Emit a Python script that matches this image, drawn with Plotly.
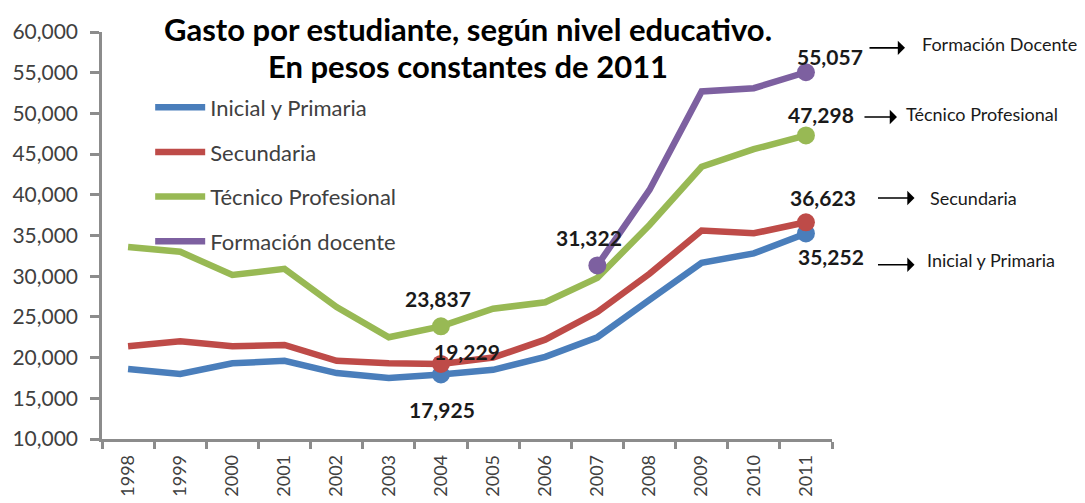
import plotly.graph_objects as go

years = ["1998", "1999", "2000", "2001", "2002", "2003", "2004",
         "2005", "2006", "2007", "2008", "2009", "2010", "2011"]

inicial = [18600, 18000, 19300, 19600, 18100, 17500, 17925,
           18500, 20100, 22500, 27100, 31650, 32800, 35252]
secundaria = [21400, 22000, 21400, 21550, 19600, 19300, 19229,
              20000, 22200, 25600, 30300, 35600, 35270, 36623]
tecnico = [33600, 33000, 30150, 30900, 26200, 22500, 23837,
           26000, 26800, 29800, 36300, 43450, 45600, 47298]
docente = [None, None, None, None, None, None, None,
           None, None, 31322, 40600, 52700, 53100, 55057]

series_names = ["Inicial y Primaria", "Secundaria", "Técnico Profesional", "Formación docente"]
series_values = [inicial, secundaria, tecnico, docente]
colors = ["#4A7EBB", "#BE4B48", "#98B954", "#7D60A0"]
highlight_idx = [[6, 13], [6, 13], [6, 13], [9, 13]]

# data labels: (series index, point index, text, xshift, yshift)
labels = [
    (0, 6, "17,925", 1, -35),
    (1, 6, "19,229", 26, 12),
    (2, 6, "23,837", -3, 28),
    (3, 9, "31,322", -8, 28),
    (3, 13, "55,057", 24, 16),
    (2, 13, "47,298", 15, 21),
    (1, 13, "36,623", 17, 25),
    (0, 13, "35,252", 25, -23),
]

side_notes = ["Formación Docente", "Técnico Profesional", "Secundaria", "Inicial y Primaria"]

FONT = "Lato"
TXT = "#1a1a1a"

fig = go.Figure()
for name, vals, col in zip(series_names, series_values, colors):
    fig.add_trace(go.Scatter(x=years, y=vals, mode="lines", name=name,
                             line=dict(color=col, width=6.5), legendgroup=name,
                             connectgaps=False))
for name, vals, col, idx in zip(series_names, series_values, colors, highlight_idx):
    fig.add_trace(go.Scatter(x=[years[i] for i in idx], y=[vals[i] for i in idx],
                             mode="markers", marker=dict(color=col, size=18),
                             showlegend=False, legendgroup=name, hoverinfo="skip"))

for si, pi, txt, xs, ys in labels:
    fig.add_annotation(x=pi, y=series_values[si][pi], xref="x", yref="y",
                       text="<b>%s</b>" % txt,
                       showarrow=False, xshift=xs, yshift=ys,
                       font=dict(family=FONT, size=21, color=TXT))

# arrows + side notes (paper coords, outside plot): head x, head y, length px, note x, note y
arrow_specs = [
    (1.100, 0.961, 37, 1.120, 0.970, side_notes[0]),
    (1.089, 0.791, 34, 1.098, 0.798, side_notes[1]),
    (1.113, 0.592, 38, 1.132, 0.592, side_notes[2]),
    (1.113, 0.428, 38, 1.128, 0.441, side_notes[3]),
]
for hx, hy, ln, nx, ny, note in arrow_specs:
    fig.add_annotation(x=hx, y=hy, ax=-ln, ay=0, xref="paper", yref="paper",
                       text="", showarrow=True,
                       arrowhead=1, arrowsize=1.5, arrowwidth=1.6, arrowcolor="#000000")
    fig.add_annotation(x=nx, y=ny, xref="paper", yref="paper", text=note,
                       showarrow=False, xanchor="left", yanchor="middle",
                       font=dict(family=FONT, size=18, color=TXT))

fig.add_annotation(x=0.501, y=1.057, xref="paper", yref="paper",
                   text="<b>Gasto por estudiante, según nivel educativo.</b>",
                   showarrow=False, yanchor="top", borderpad=0,
                   font=dict(family=FONT, size=31, color="#000000"))
fig.add_annotation(x=0.501, y=0.916, xref="paper", yref="paper",
                   text="<b>En pesos constantes de 2011</b>",
                   showarrow=False, yanchor="middle",
                   font=dict(family=FONT, size=31, color="#000000"))

# page body has an 8px margin, so margins are reduced by 8px on left/top
fig.update_layout(
    width=1085, height=503,
    margin=dict(l=94, r=261, t=24, b=72),
    paper_bgcolor="white", plot_bgcolor="white",
    font=dict(family=FONT, color="#404040"),
    showlegend=True,
    legend=dict(x=0.066, y=0.866, xanchor="left", yanchor="top",
                bgcolor="rgba(0,0,0,0)", font=dict(family=FONT, size=22, color="#404040"),
                tracegroupgap=13, itemwidth=50),
    xaxis=dict(type="category", showgrid=False, showline=True, linecolor="#8c8c8c",
               linewidth=2.5, ticks="outside", tickson="boundaries", ticklen=7,
               tickcolor="#8c8c8c", tickwidth=2.5, tickangle=-90, automargin=False,
               tickfont=dict(family=FONT, size=18, color="#404040"),
               ticklabelstandoff=6, range=[-0.5, 13.5]),
    yaxis=dict(range=[10000, 60000], dtick=5000, tickformat=",d", showgrid=False,
               showline=True, linecolor="#8c8c8c", linewidth=2.5, ticks="outside",
               ticklen=9, tickcolor="#8c8c8c", tickwidth=2.5, zeroline=False,
               ticklabelstandoff=8, automargin=False,
               tickfont=dict(family=FONT, size=21, color="#404040")),
)

fig.write_html("out.html")
